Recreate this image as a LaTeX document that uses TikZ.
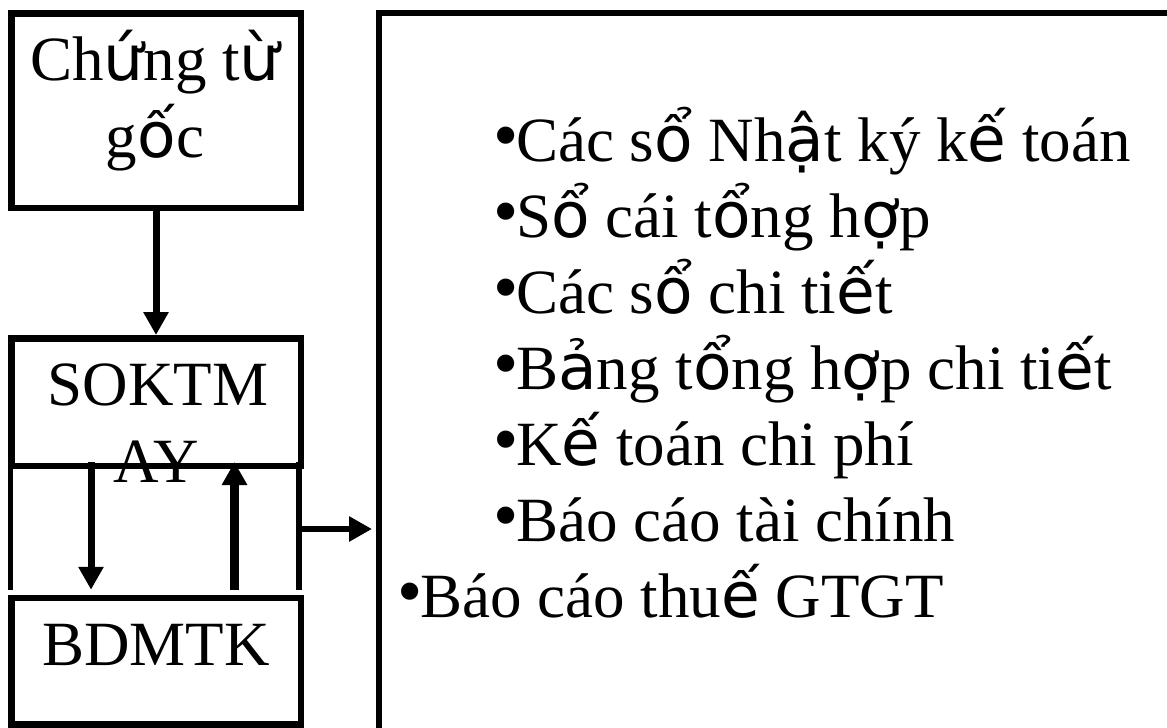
\documentclass[tikz,border=0pt]{standalone}
\usepackage{fontspec}
\setmainfont{Liberation Serif}
\newfontfamily\vnsans{DejaVu Sans}
\usetikzlibrary{arrows.meta}
% letters with stacked diacritics are set in the sans face
\newcommand\vs[1]{{\vnsans #1}}
% list bullet followed by a fixed gap
\newcommand\bul{\makebox[23pt][l]{\fontsize{72}{72}\selectfont\raisebox{2pt}{•}}}

\begin{document}
\begin{tikzpicture}[x=1pt,y=-1pt,
  box/.style={draw, line width=6.5pt, inner sep=0pt, minimum width=289.5pt},
  lbl/.style={font=\fontsize{63}{75.6}\selectfont, inner sep=0pt, anchor=base},
  item/.style={font=\fontsize{63}{75.6}\selectfont, inner sep=0pt, anchor=base west},
  flow/.style={line width=7pt, -{Triangle[length=23pt,width=24pt]}},
  rail/.style={line width=5.8pt},
]
\useasboundingbox (0,0) rectangle (1167,728);

% left column of boxes
\node[box, minimum height=194.5pt] (chungtu) at (156,110.5) {};
\node[box, minimum height=127.5pt] (soktmay) at (156,402) {};
\node[box, minimum height=126.5pt] (bdmtk) at (156,661) {};

\node[lbl] (chungtu1) at (155,80) {Ch\vs{ứ}ng t\vs{ừ}};
\node[lbl] (chungtu2) at (155,157) {g\vs{ố}c};
\node[lbl] (soktmay1) at (158,405) {SOKTM};
\node[lbl] (soktmay2) at (156,482) {AY};
\node[lbl] (bdmtk1) at (156,665) {BDMTK};

% output box, open to the right and below
\node[draw, line width=6pt, inner sep=0pt, minimum width=900pt, minimum height=800pt,
      anchor=north west] (reports) at (376,10) {};

\node[item] (r1) at (493,161) {\bul Các s\vs{ổ} Nh\vs{ậ}t ký k\vs{ế} toán};
\node[item] (r2) at (493,237) {\bul S\vs{ổ} cái t\vs{ổ}ng h\vs{ợ}p};
\node[item] (r3) at (493,313) {\bul Các s\vs{ổ} chi ti\vs{ế}t};
\node[item] (r4) at (493,389) {\bul B\vs{ả}ng t\vs{ổ}ng h\vs{ợ}p chi ti\vs{ế}t};
\node[item] (r5) at (493,465) {\bul K\vs{ế} toán chi phí};
\node[item] (r6) at (493,541) {\bul Báo cáo tài chính};
\node[item] (r7) at (397,617) {\bul Báo cáo thu\vs{ế} GTGT};

% connectors
\draw[flow] (chungtu.south) -- (soktmay.north);

\draw[rail, shorten >=4.75pt] ([xshift=2.5pt]soktmay.south west) -- ([xshift=2.5pt]bdmtk.north west);
\draw[rail, shorten <=-7pt, shorten >=4.75pt] ([xshift=-5.25pt]soktmay.south east) -- ([xshift=-5.25pt]bdmtk.north east);

\draw[flow, shorten <=-7pt, shorten >=4.75pt] ([xshift=-65pt]soktmay.south) -- ([xshift=-65pt]bdmtk.north);
\draw[flow, line width=8.5pt, shorten <=4.75pt, shorten >=-7pt] ([xshift=78.5pt]bdmtk.north) -- ([xshift=78.5pt]soktmay.south);

\coordinate (tap) at (299,529);
\draw[flow, line width=6.5pt, shorten >=4pt] (tap) -- (tap -| reports.west);
\end{tikzpicture}
\end{document}
